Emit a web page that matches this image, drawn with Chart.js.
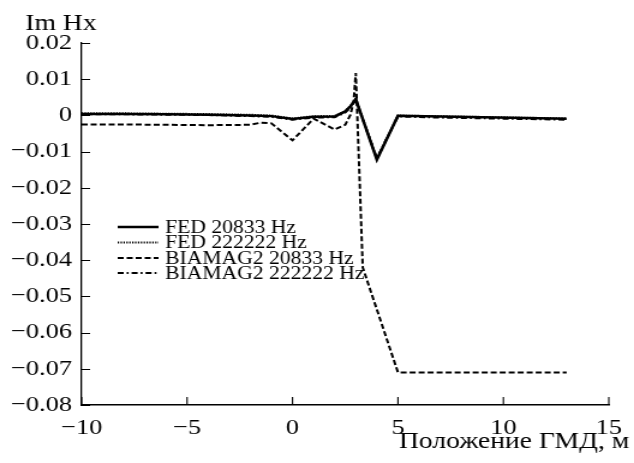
<!DOCTYPE html>
<html>
<head>
<meta charset="utf-8">
<script src="https://cdn.jsdelivr.net/npm/chart.js@4/dist/chart.umd.min.js"></script>
<style>
  html, body { margin: 0; padding: 0; background: #fff; overflow: hidden; }
  /* the original figure is stretched sideways, so the drawing is too */
  #wrap { width: 528px; height: 463px; transform: scaleX(1.2008); transform-origin: 0 0; }
</style>
</head>
<body>
<div id="wrap"><canvas id="chart"></canvas></div>
<script>
// Series values (x = Положение ГМД, м ; y = Im Hx)
const fed20833X = [-10, -8, -6, -4, -2, -1, 0, 1, 2, 2.5, 2.75, 3, 4, 5, 7, 9, 11, 13];
const fed20833Y = [0.0004, 0.0004, 0.0003, 0.0002, 0, -0.0002, -0.001, -0.0004, -0.0003, 0.0011, 0.0025, 0.0045, -0.0122, -0.0001, -0.0003, -0.0005, -0.0007, -0.0009];

const fed222222X = [-10, -8, -6, -4, -2, -1, 0, 1, 2, 2.5, 2.75, 3, 4, 5, 7, 9, 11, 13];
const fed222222Y = [0.0006, 0.0006, 0.0005, 0.0004, 0.0002, 0, -0.0008, -0.0002, -0.0001, 0.0012, 0.0027, 0.0047, -0.012, 0, -0.0002, -0.0004, -0.0006, -0.0008];

const bia20833X = [-10, -8, -6, -4, -2, -1.5, -1, 0, 1, 2, 2.5, 2.75, 2.9, 3, 3.33, 5, 7, 9, 11, 13];
const bia20833Y = [-0.0025, -0.0025, -0.0026, -0.0027, -0.0026, -0.002, -0.0022, -0.0069, -0.0009, -0.0039, -0.0026, 0.0002, 0.004, 0.0117, -0.042, -0.071, -0.071, -0.071, -0.071, -0.071];

const bia222222X = [-10, -8, -6, -4, -2, -1, 0, 1, 2, 2.5, 2.75, 3, 4, 5, 7, 9, 11, 13];
const bia222222Y = [0.0003, 0.0003, 0.0002, 0.0001, -0.0002, -0.0004, -0.0012, -0.0006, -0.0005, 0.0008, 0.0022, 0.0042, -0.0118, -0.0003, -0.0006, -0.0008, -0.001, -0.0012];

const seriesLabels = ['FED 20833 Hz', 'FED 222222 Hz', 'BIAMAG2 20833 Hz', 'BIAMAG2 222222 Hz'];

const FONT = '"Liberation Serif", "Times New Roman", serif';

function pts(xs, ys) {
  return xs.map((x, i) => ({ x: x, y: ys[i] }));
}

// minus sign like the original
function fmt(v) {
  const r = Math.round(v * 100) / 100;
  if (r === 0) return '0';
  const s = Number.isInteger(r) ? String(Math.abs(r)) : Math.abs(r).toFixed(2);
  return (r < 0 ? '\u2212' : '') + s;
}

// inward ticks, legend and the two axis captions
const decor = {
  id: 'decor',
  afterDraw(chart) {
    const { ctx, chartArea: a, scales: { x, y } } = chart;
    ctx.save();
    ctx.strokeStyle = '#000';
    ctx.lineWidth = 1.1;
    ctx.beginPath();
    x.ticks.forEach(t => {
      const px = x.getPixelForValue(t.value);
      ctx.moveTo(px, a.bottom);
      ctx.lineTo(px, a.bottom - 8);
    });
    y.ticks.forEach(t => {
      const py = Math.round(y.getPixelForValue(t.value)) + 0.5;
      ctx.moveTo(a.left, py);
      ctx.lineTo(a.left + 7, py);
    });
    ctx.stroke();

    // legend
    const lx0 = 98, lx1 = 132, tx = 137.5;
    const rowY = [227, 242.5, 258, 273];
    ctx.font = '18px ' + FONT;
    ctx.fillStyle = '#000';
    ctx.textBaseline = 'middle';
    chart.data.datasets.forEach((ds, i) => {
      ctx.beginPath();
      ctx.setLineDash(ds.borderDash || []);
      ctx.lineWidth = ds.borderWidth;
      ctx.moveTo(lx0, rowY[i]);
      ctx.lineTo(lx1, rowY[i]);
      ctx.stroke();
      ctx.setLineDash([]);
      ctx.fillText(ds.label, tx, rowY[i] + 1);
    });

    // axis captions
    ctx.font = '23px ' + FONT;
    ctx.textBaseline = 'alphabetic';
    ctx.textAlign = 'left';
    ctx.fillText('Im Hx', 21, 30);
    ctx.textAlign = 'right';
    ctx.fillText('Положение ГМД, м', 524, 448);
    ctx.restore();
  }
};

const ds = (label, xs, ys, width, dash) => ({
  label: label,
  data: pts(xs, ys),
  borderColor: '#000',
  backgroundColor: '#000',
  borderWidth: width,
  borderDash: dash,
  pointRadius: 0,
  tension: 0,
  fill: false
});

new Chart(document.getElementById('chart'), {
  type: 'line',
  data: {
    datasets: [
      ds(seriesLabels[0], fed20833X, fed20833Y, 2.5, []),
      ds(seriesLabels[1], fed222222X, fed222222Y, 1.8, [1.2, 1.2]),
      ds(seriesLabels[2], bia20833X, bia20833Y, 2, [5, 2.5]),
      ds(seriesLabels[3], bia222222X, bia222222Y, 2, [5, 2.5, 1.6, 2.5])
    ]
  },
  options: {
    responsive: true,
    maintainAspectRatio: false,
    animation: false,
    layout: { padding: { top: 43, right: 13, left: 0, bottom: 0 } },
    plugins: {
      legend: { display: false },
      tooltip: { enabled: false }
    },
    scales: {
      x: {
        type: 'linear',
        min: -10,
        max: 15,
        afterFit: s => { s.height = 58; },
        border: { display: true, color: '#000', width: 1.5 },
        grid: { display: false, drawTicks: false },
        ticks: {
          stepSize: 5,
          padding: 10,
          color: '#000',
          font: { family: FONT, size: 22 },
          maxRotation: 0,
          callback: v => fmt(v)
        }
      },
      y: {
        type: 'linear',
        min: -0.08,
        max: 0.02,
        afterFit: s => { s.width = 68; },
        border: { display: true, color: '#000', width: 1.3 },
        grid: { display: false, drawTicks: false },
        ticks: {
          stepSize: 0.01,
          padding: 8,
          color: '#000',
          font: { family: FONT, size: 22 },
          callback: v => fmt(v)
        }
      }
    }
  },
  plugins: [decor]
});
</script>
</body>
</html>
